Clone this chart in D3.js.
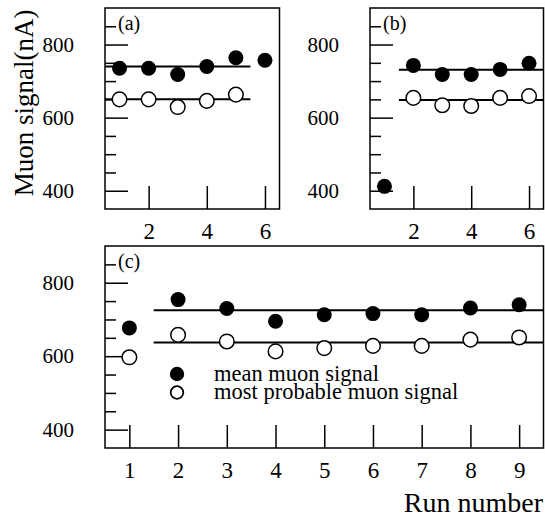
<!DOCTYPE html>
<html><head><meta charset="utf-8">
<script src="https://cdn.jsdelivr.net/npm/d3@7"></script>
<style>
html,body{margin:0;padding:0;background:#fff;}
svg{display:block;}
text{font-family:"Liberation Serif","Times New Roman",serif;fill:#000;}
</style></head>
<body>
<script>
// ---- data ----
const runsA = [1, 2, 3, 4, 5, 6];
const meanA = [735, 735, 718, 740, 764, 757];
const mpA   = [650, 650, 629, 646, 663, null];
const fitA  = [740, 650];           // mean, most probable level
const fitRangeA = [0.5, 5.5];

const runsB = [1, 2, 3, 4, 5, 6];
const meanB = [412, 743, 718, 718, 732, 749];
const mpB   = [null, 654, 634, 632, 654, 659];
const fitB  = [731, 648];
const fitRangeB = [1.5, 6.5];

const runsC = [1, 2, 3, 4, 5, 6, 7, 8, 9];
const meanC = [677, 754, 730, 695, 713, 716, 713, 731, 740];
const mpC   = [597, 658, 640, 613, 622, 628, 628, 645, 651];
const fitC  = [725, 637];
const fitRangeC = [1.5, 9.5];

const yMajor = [400, 600, 800];
const yMinor = [450, 500, 550, 650, 700, 750, 850];
const xTicksAB = [2, 4, 6];
const xTicksC = [1, 2, 3, 4, 5, 6, 7, 8, 9];
const legendLabels = ["mean muon signal", "most probable muon signal"];
const panelLabels = ["(a)", "(b)", "(c)"];

const W = 545, H = 519;
const svg = d3.select("body").append("svg").attr("width", W).attr("height", H);

function panel(opts) {
  const {x0, x1, y0, y1, xDomain, xTicks, runs, mean, mp, fit, fitRange, label} = opts;
  const x = d3.scaleLinear().domain(xDomain).range([x0, x1]);
  const y = d3.scaleLinear().domain([350, 900]).range([y1, y0]);
  const g = svg.append("g");

  const gMinor = g.append("g").attr("transform", `translate(${x0},0)`)
    .call(d3.axisLeft(y).tickValues(yMinor).tickSize(-11).tickFormat(""));
  const gMajor = g.append("g").attr("transform", `translate(${x0},0)`)
    .call(d3.axisLeft(y).tickValues(yMajor).tickSize(-23).tickPadding(31));
  const gX = g.append("g").attr("transform", `translate(0,${y1})`)
    .call(d3.axisBottom(x).tickValues(xTicks).tickSize(-23).tickPadding(14).tickFormat(d3.format("d")));

  [gMinor, gMajor, gX].forEach(a => {
    a.select(".domain").remove();
    a.attr("font-family", null).attr("font-size", null);
    a.selectAll("line").attr("stroke", "#000").attr("stroke-width", 1.5);
  });
  gMajor.selectAll("text").style("font-size", "21px");
  gX.selectAll("text").style("font-size", "23px");

  g.selectAll("line.fit").data(fit).join("line").attr("class", "fit")
    .attr("x1", x(fitRange[0])).attr("x2", x(fitRange[1]))
    .attr("y1", d => y(d)).attr("y2", d => y(d))
    .attr("stroke", "#000").attr("stroke-width", 2);

  g.append("rect").attr("x", x0).attr("y", y0).attr("width", x1 - x0).attr("height", y1 - y0)
    .attr("fill", "none").attr("stroke", "#000").attr("stroke-width", 1.5);

  const meanPts = runs.map((r, i) => ({r, v: mean[i]})).filter(d => d.v != null);
  const mpPts = runs.map((r, i) => ({r, v: mp[i]})).filter(d => d.v != null);
  g.selectAll("circle.mp").data(mpPts).join("circle").attr("class", "mp")
    .attr("cx", d => x(d.r)).attr("cy", d => y(d.v)).attr("r", 7.3)
    .attr("fill", "#fff").attr("stroke", "#000").attr("stroke-width", 1.5);
  g.selectAll("circle.mean").data(meanPts).join("circle").attr("class", "mean")
    .attr("cx", d => x(d.r)).attr("cy", d => y(d.v)).attr("r", 7.5)
    .attr("fill", "#000");

  g.append("text").attr("x", x0 + 13).attr("y", y0 + 22).style("font-size", "20px").text(label);
  return {x, y, g};
}

panel({x0: 105, x1: 279.5, y0: 8, y1: 209, xDomain: [0.5, 6.5], xTicks: xTicksAB,
  runs: runsA, mean: meanA, mp: mpA, fit: fitA, fitRange: fitRangeA, label: panelLabels[0]});
panel({x0: 370, x1: 543.5, y0: 8, y1: 209, xDomain: [0.5, 6.5], xTicks: xTicksAB,
  runs: runsB, mean: meanB, mp: mpB, fit: fitB, fitRange: fitRangeB, label: panelLabels[1]});
panel({x0: 105, x1: 543.5, y0: 246, y1: 448, xDomain: [0.5, 9.5], xTicks: xTicksC,
  runs: runsC, mean: meanC, mp: mpC, fit: fitC, fitRange: fitRangeC, label: panelLabels[2]});

// legend
const leg = svg.append("g");
leg.selectAll("circle").data(legendLabels).join("circle")
  .attr("cx", 177).attr("cy", (d, i) => 374 + i * 18.5).attr("r", (d, i) => i ? 6.3 : 7.2)
  .attr("fill", (d, i) => i ? "#fff" : "#000").attr("stroke", "#000").attr("stroke-width", (d, i) => i ? 1.8 : 0);
leg.selectAll("text").data(legendLabels).join("text")
  .attr("x", 214).attr("y", (d, i) => 381 + i * 17.7).style("font-size", "22.5px").text(d => d);

// axis titles
svg.append("text").attr("transform", "translate(33,103) rotate(-90)").attr("text-anchor", "middle")
  .style("font-size", "27px").text("Muon signal(nA)");
svg.append("text").attr("x", 543).attr("y", 512).attr("text-anchor", "end")
  .style("font-size", "28px").text("Run number");
</script>
</body></html>
